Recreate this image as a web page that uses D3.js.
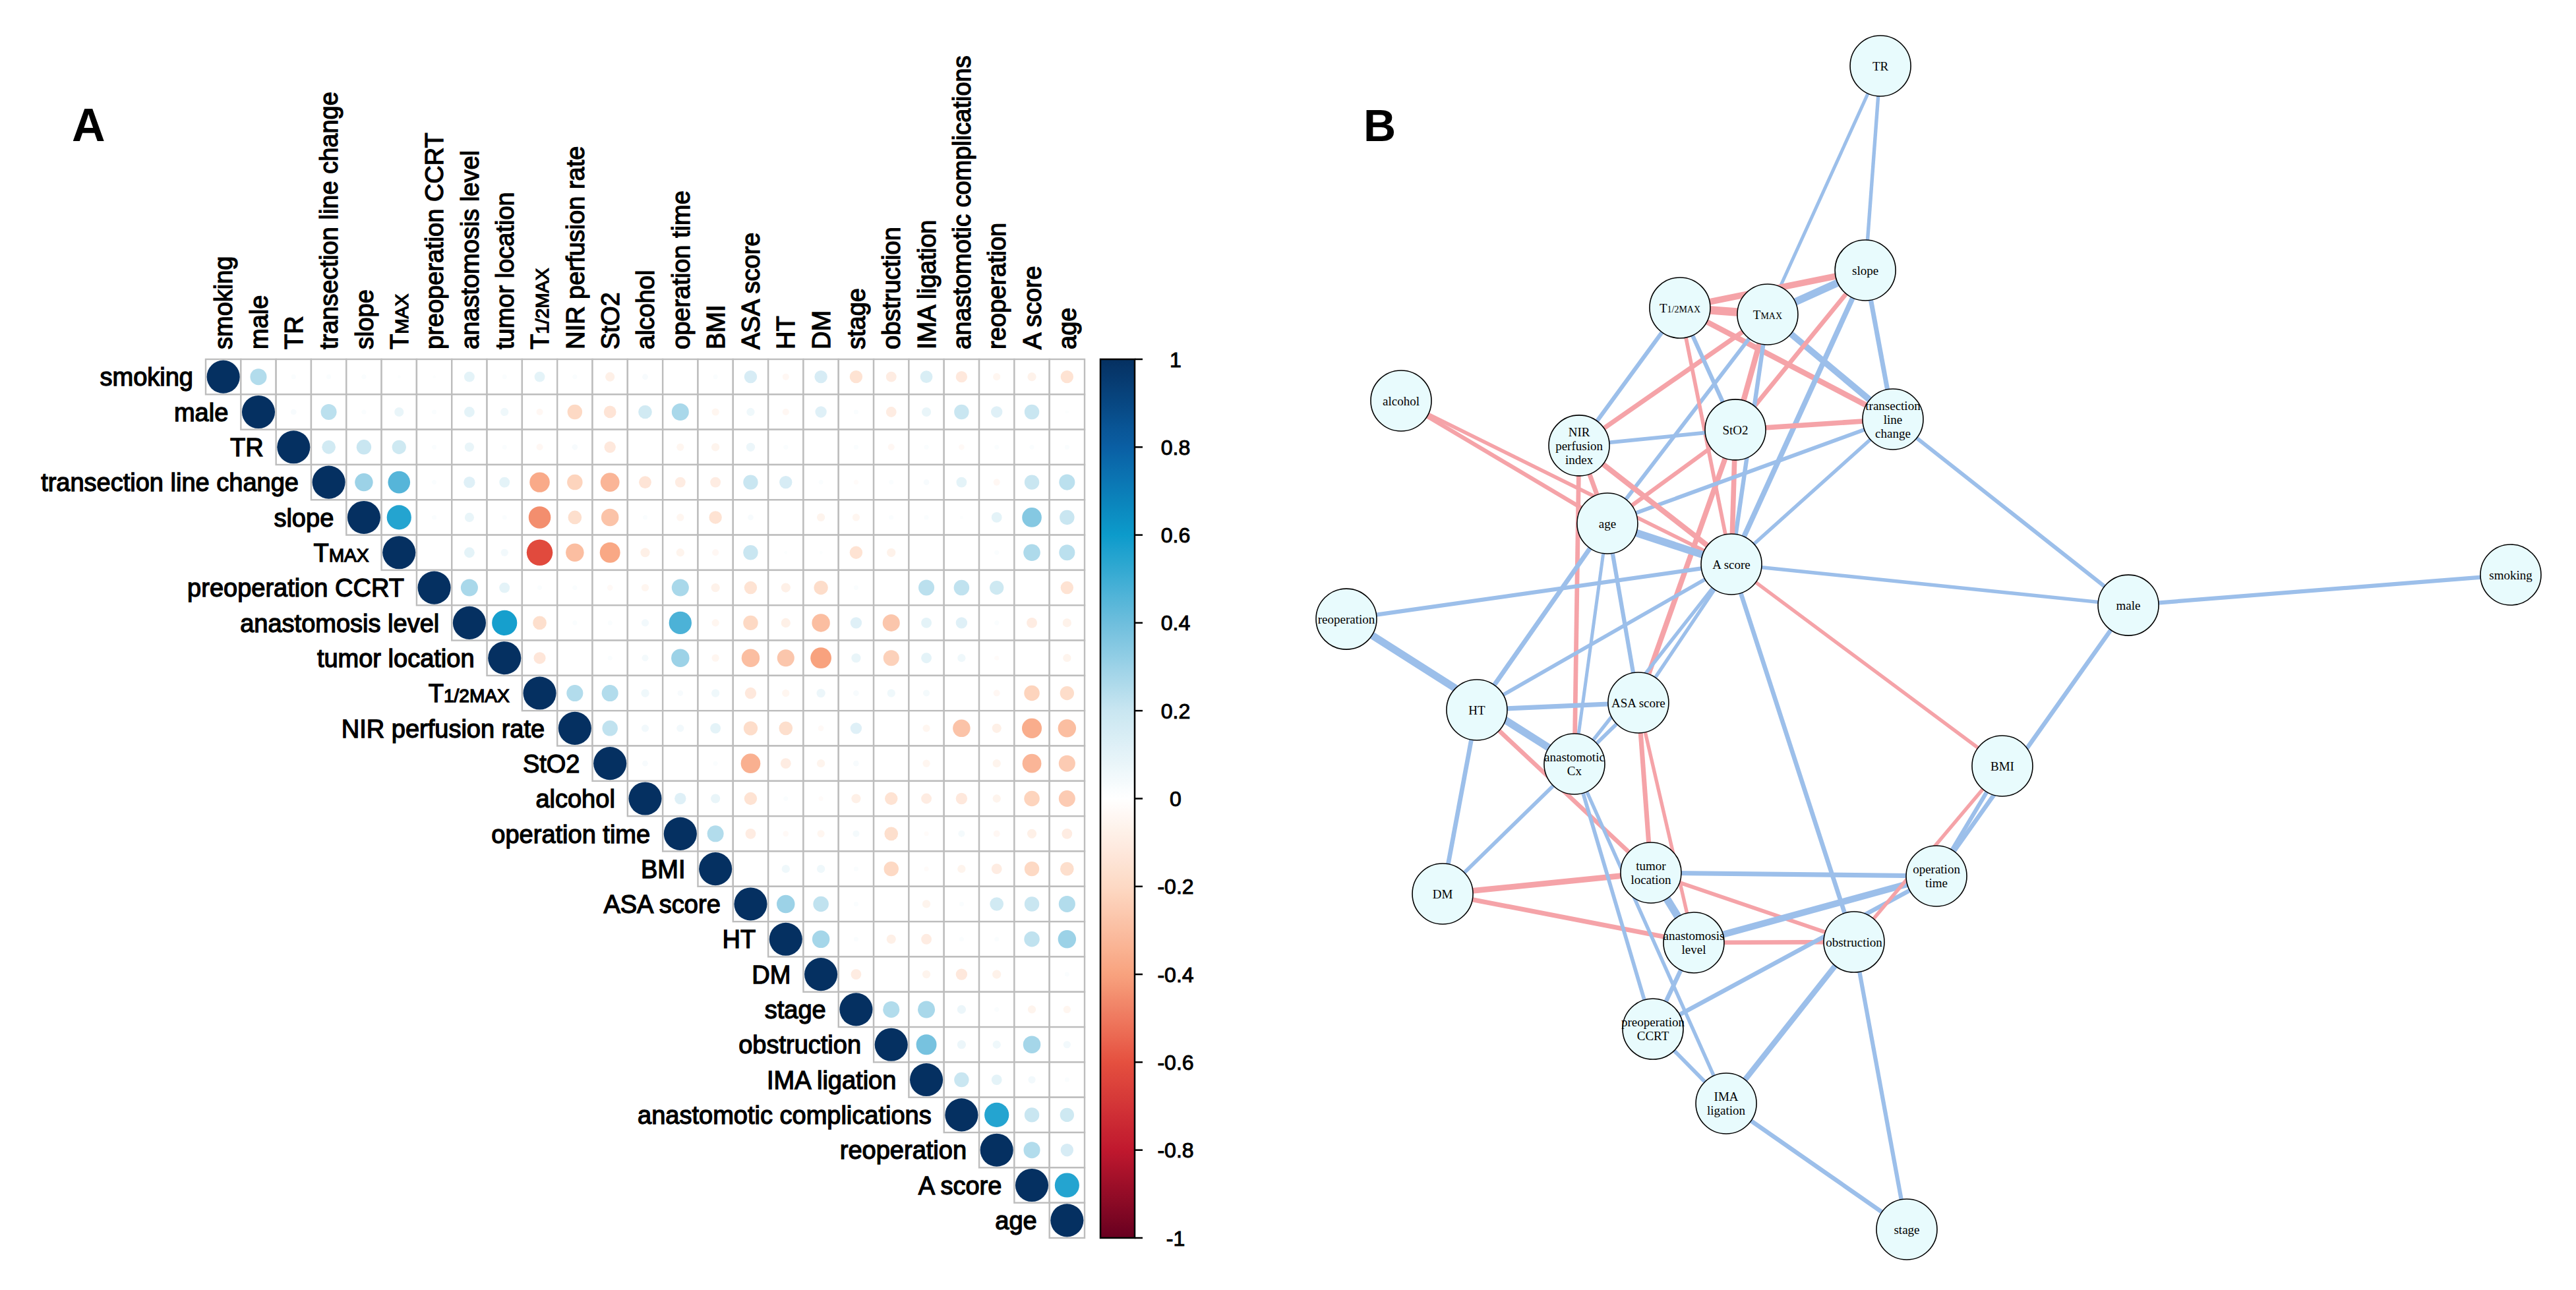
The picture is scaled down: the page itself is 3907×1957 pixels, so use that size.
<!DOCTYPE html>
<html><head><meta charset="utf-8">
<script src="https://cdn.jsdelivr.net/npm/d3@7"></script>
<style>body{margin:0;background:#fff}</style>
</head><body>
<svg id="chart" width="3907" height="1957" xmlns="http://www.w3.org/2000/svg"></svg>
<script>
// ---------- DATA ----------
// "|" separates the small-caps tail of a label
const variables = ["smoking","male","TR","transection line change","slope","T|MAX",
  "preoperation CCRT","anastomosis level","tumor location","T|1/2MAX","NIR perfusion rate",
  "StO2","alcohol","operation time","BMI","ASA score","HT","DM","stage","obstruction",
  "IMA ligation","anastomotic complications","reoperation","A score","age"];

// upper triangle rows: row i holds correlations with columns i..24
const corrUpper = [
  [1,0.25,0.02,0.02,0.02,0.01,0.01,0.10,0.02,0.10,0.02,-0.08,0.03,0,0.02,0.15,-0.04,0.15,-0.15,-0.10,0.14,-0.12,-0.05,-0.07,-0.15],
  [1,0.03,0.23,0.02,0.08,0.02,0.10,0.06,-0.04,-0.20,-0.14,0.17,0.27,-0.05,0.06,-0.04,0.12,0.02,-0.10,0.08,0.20,0.12,0.20,0.01],
  [1,0.17,0.20,0.18,0.02,0.08,0.02,-0.04,0.03,-0.12,0,-0.05,-0.06,0.07,0.02,0,0.02,-0.04,0.02,-0.03,0.02,0.02,0.02],
  [1,0.30,0.45,0.02,0.12,0.10,-0.37,-0.22,-0.33,-0.14,-0.10,-0.10,0.20,0.15,0.02,-0.02,0.02,0.03,0.10,-0.04,0.20,0.23],
  [1,0.55,0.02,0.08,0.02,-0.45,-0.17,-0.28,0.02,-0.05,-0.15,0.03,0,-0.06,-0.05,0.02,0.02,0.01,0.10,0.35,0.20],
  [1,0,0.10,0.05,-0.62,-0.30,-0.38,-0.08,-0.06,-0.04,0.20,0.01,0.01,-0.15,-0.07,0,0,0.02,0.26,0.23],
  [1,0.27,0.10,0.02,0.02,-0.03,-0.05,0.27,-0.07,-0.15,-0.08,-0.18,0.02,0,0.23,0.22,0.18,0,-0.15],
  [1,0.58,-0.17,0.02,0.02,0.05,0.47,-0.05,-0.20,-0.08,-0.30,0.12,-0.27,0.10,0.12,0.02,-0.10,-0.07],
  [1,-0.13,0,0.02,0.04,0.30,-0.05,-0.30,-0.27,-0.40,0.08,-0.23,0.10,0.06,-0.02,0,-0.06],
  [1,0.25,0.25,0.06,0.03,0.06,-0.12,-0.05,0.07,0.03,0.06,0.04,0,-0.04,-0.22,-0.18],
  [1,0.22,0.05,0.05,0.10,-0.18,-0.17,-0.03,0.12,0,-0.05,-0.28,-0.08,-0.36,-0.30],
  [1,0.03,0,0.02,-0.35,-0.10,-0.06,0.03,0,-0.05,0,-0.06,-0.33,-0.25],
  [1,0.12,0.08,-0.15,0.02,-0.02,-0.08,-0.15,-0.10,-0.12,-0.06,-0.22,-0.25],
  [1,0.25,-0.10,-0.03,-0.05,0.04,-0.17,-0.02,0.04,-0.04,-0.08,-0.10],
  [1,0,0.06,0.06,0.02,-0.20,-0.02,-0.06,-0.10,-0.20,-0.17],
  [1,0.30,0.22,0.02,0,-0.06,0.02,0.17,0.20,0.25],
  [1,0.28,0.02,-0.08,-0.10,0.02,0.02,0.22,0.30],
  [1,-0.10,0,-0.06,-0.12,-0.07,0,0.02],
  [1,0.25,0.27,0.07,0.02,-0.06,-0.05],
  [1,0.38,0.07,0.06,0.28,0.05],
  [1,0.20,0.10,0.05,0.02],
  [1,0.55,0.20,0.18],
  [1,0.25,0.15],
  [1,0.55],
  [1]
];

const colorTicks = [1,0.8,0.6,0.4,0.2,0,-0.2,-0.4,-0.6,-0.8,-1];
const colorTickLabels = ["1","0.8","0.6","0.4","0.2","0","-0.2","-0.4","-0.6","-0.8","-1"];
const colorStops = [-1,-0.8,-0.6,-0.4,-0.2,0,0.2,0.4,0.6,0.8,1];
const colorHexes = ["#67001F","#C0182E","#E5503F","#F8A27E","#FDD9C4","#FFFFFF","#C9E6F1","#6EBEDD","#0C9BCB","#0A5FA4","#053061"];

// network (panel B)
const netLabels = ["TR","slope","T|1/2MAX","T|MAX","alcohol","NIR\nperfusion\nindex","StO2",
  "transection\nline\nchange","age","A score","reoperation","male","smoking","HT","ASA score",
  "anastomotic\nCx","BMI","DM","tumor\nlocation","operation\ntime","anastomosis\nlevel",
  "obstruction","preoperation\nCCRT","IMA\nligation","stage"];
const netVar = [2,4,9,5,12,10,11,3,24,23,22,1,0,16,15,21,14,17,8,13,7,19,6,20,18];
const netLayoutX = [0.4587,0.4457,0.2865,0.3618,0.0470,0.1999,0.3341,0.4694,0.2242,0.3307,0,0.6716,1,
  0.1121,0.2508,0.1959,0.5634,0.0827,0.2616,0.5068,0.2984,0.4360,0.2633,0.3262,0.4813];
const netLayoutY = [0,0.1756,0.2079,0.2136,0.2878,0.3263,0.3127,0.3037,0.3932,0.4283,0.4754,0.4635,0.4374,
  0.5535,0.5473,0.6000,0.6017,0.7116,0.6935,0.6963,0.7535,0.7530,0.8278,0.8918,1];
// edges given as pairs of variable indices (weights read from the matrix)
const netEdges = [[2,5],[2,4],[9,4],[4,5],[9,5],[9,3],[5,3],[4,3],[4,11],[4,23],[5,10],[5,11],[5,23],
  [5,24],[9,10],[9,11],[9,23],[11,10],[11,3],[11,24],[11,23],[11,15],[3,24],[3,23],[3,1],[10,24],
  [10,23],[12,24],[12,23],[10,21],[24,23],[23,22],[23,1],[23,14],[23,19],[22,21],[16,24],[16,23],
  [16,15],[16,8],[16,17],[21,24],[15,24],[15,23],[21,23],[17,15],[15,8],[15,7],[17,8],[17,7],[8,13],
  [8,7],[8,19],[7,13],[7,19],[7,6],[6,13],[19,14],[13,14],[1,13],[19,20],[19,18],[20,18],[6,20],
  [21,6],[21,20],[0,1]];

// ---------- DRAW ----------
const svg = d3.select("#chart");
const n = variables.length;
const corr = (i, j) => { const a = Math.min(i,j), b = Math.max(i,j); return corrUpper[a][b-a]; };

const mLeft = 312, mTop = 545, mSize = 1333;
const xBand = d3.scaleBand().domain(d3.range(n)).range([mLeft, mLeft + mSize]);
const yBand = d3.scaleBand().domain(d3.range(n)).range([mTop, mTop + mSize]);
const cell = xBand.bandwidth();
const color = d3.scaleLinear().domain(colorStops).range(colorHexes).interpolate(d3.interpolateRgb).clamp(true);
const rScale = d3.scaleSqrt().domain([0,1]).range([0, cell*0.47]);

const sansFont = "'Liberation Sans', Arial, Helvetica, sans-serif";

function addLabel(sel, label, smallSize) {
  const parts = label.split("|");
  sel.append("tspan").text(parts[0]);
  if (parts.length > 1) sel.append("tspan").attr("font-size", smallSize).text(parts[1].toUpperCase());
}

// panel letters
svg.append("text").attr("x",109).attr("y",214).attr("font-family",sansFont).attr("font-weight","bold")
  .attr("font-size",70).text("A");
svg.append("text").attr("x",2068).attr("y",214).attr("font-family",sansFont).attr("font-weight","bold")
  .attr("font-size",68).text("B");

// cells
const cells = [];
for (let i = 0; i < n; i++) for (let j = i; j < n; j++) cells.push({i, j, v: corr(i,j)});
const gM = svg.append("g");
gM.selectAll("rect.cell").data(cells).join("rect").attr("class","cell")
  .attr("x", d => xBand(d.j)).attr("y", d => yBand(d.i))
  .attr("width", cell).attr("height", cell)
  .attr("fill","#fff").attr("stroke","#bdbdbd").attr("stroke-width",2.4);
gM.selectAll("circle").data(cells).join("circle")
  .attr("cx", d => xBand(d.j) + cell/2).attr("cy", d => yBand(d.i) + cell/2)
  .attr("r", d => rScale(Math.abs(d.v)))
  .attr("fill", d => color(d.v));

// row labels
const labelSize = 38;
variables.forEach((v, i) => {
  const t = svg.append("text").attr("x", xBand(i) - 19).attr("y", yBand(i) + cell/2)
    .attr("dy","0.36em").attr("text-anchor","end").attr("font-family",sansFont)
    .attr("font-size",labelSize).attr("fill","#000").attr("stroke","#000").attr("stroke-width",1.3);
  addLabel(t, v, labelSize*0.74);
});
// column labels
variables.forEach((v, j) => {
  const t = svg.append("text")
    .attr("transform", `translate(${xBand(j) + cell/2},${mTop - 15}) rotate(-90)`)
    .attr("dy","0.36em").attr("text-anchor","start").attr("font-family",sansFont)
    .attr("font-size",labelSize).attr("fill","#000").attr("stroke","#000").attr("stroke-width",1.3);
  addLabel(t, v, labelSize*0.74);
});

// colour bar
const cbX = 1669, cbW = 52;
const cbScale = d3.scaleLinear().domain([-1,1]).range([mTop + mSize, mTop]);
const defs = svg.append("defs");
const grad = defs.append("linearGradient").attr("id","cbGrad").attr("x1",0).attr("y1",1).attr("x2",0).attr("y2",0);
d3.range(0, 1.0001, 0.01).forEach(t => {
  grad.append("stop").attr("offset", t).attr("stop-color", color(-1 + 2*t));
});
svg.append("rect").attr("x", cbX).attr("y", cbScale(1)).attr("width", cbW)
  .attr("height", cbScale(-1) - cbScale(1)).attr("fill","url(#cbGrad)")
  .attr("stroke","#000").attr("stroke-width",2.5);
const cbAxis = svg.append("g");
colorTicks.forEach((tv, k) => {
  cbAxis.append("line").attr("x1", cbX + cbW).attr("x2", cbX + cbW + 12)
    .attr("y1", cbScale(tv)).attr("y2", cbScale(tv)).attr("stroke","#000").attr("stroke-width",2.5);
  cbAxis.append("text").attr("x", 1783).attr("y", cbScale(tv)).attr("dy","0.36em")
    .attr("text-anchor","middle").attr("font-family",sansFont).attr("font-size",32)
    .attr("stroke","#000").attr("stroke-width",1.0).text(colorTickLabels[k]);
});

// ---------- NETWORK ----------
const nx = d3.scaleLinear().domain([0,1]).range([2042, 3808]);
const ny = d3.scaleLinear().domain([0,1]).range([100, 1865]);
const nodeOfVar = {};
netVar.forEach((v, k) => nodeOfVar[v] = k);
const edgeData = netEdges.map(([a,b]) => ({a: nodeOfVar[a], b: nodeOfVar[b], v: corr(a,b)}));
const wScale = d3.scaleLinear().domain([0,1]).range([2,19]);
const gN = svg.append("g");
gN.selectAll("line").data(edgeData).join("line")
  .attr("x1", d => nx(netLayoutX[d.a])).attr("y1", d => ny(netLayoutY[d.a]))
  .attr("x2", d => nx(netLayoutX[d.b])).attr("y2", d => ny(netLayoutY[d.b]))
  .attr("stroke", d => d.v > 0 ? "#9CBFEA" : "#F5A3A8")
  .attr("stroke-width", d => wScale(Math.abs(d.v)));
const nodeR = 46;
const nodes = netLabels.map((l, k) => ({l, x: nx(netLayoutX[k]), y: ny(netLayoutY[k])}));
const ng = gN.selectAll("g.node").data(nodes).join("g").attr("class","node")
  .attr("transform", d => `translate(${d.x},${d.y})`);
ng.append("circle").attr("r", nodeR).attr("fill","#E8FBFD").attr("stroke","#000").attr("stroke-width",1.6);
ng.each(function(d) {
  const lines = d.l.split("\n");
  const lh = 21;
  const t = d3.select(this).append("text").attr("text-anchor","middle")
    .attr("font-family","'Liberation Serif','Times New Roman',serif").attr("font-size",19).attr("fill","#000");
  lines.forEach((ln, li) => {
    const y = (li - (lines.length - 1)/2) * lh;
    const parts = ln.split("|");
    t.append("tspan").attr("x",0).attr("y", y).attr("dy","0.35em").text(parts[0]);
    if (parts.length > 1) t.append("tspan").attr("font-size",14).text(parts[1].toUpperCase());
  });
});
</script>
</body></html>
